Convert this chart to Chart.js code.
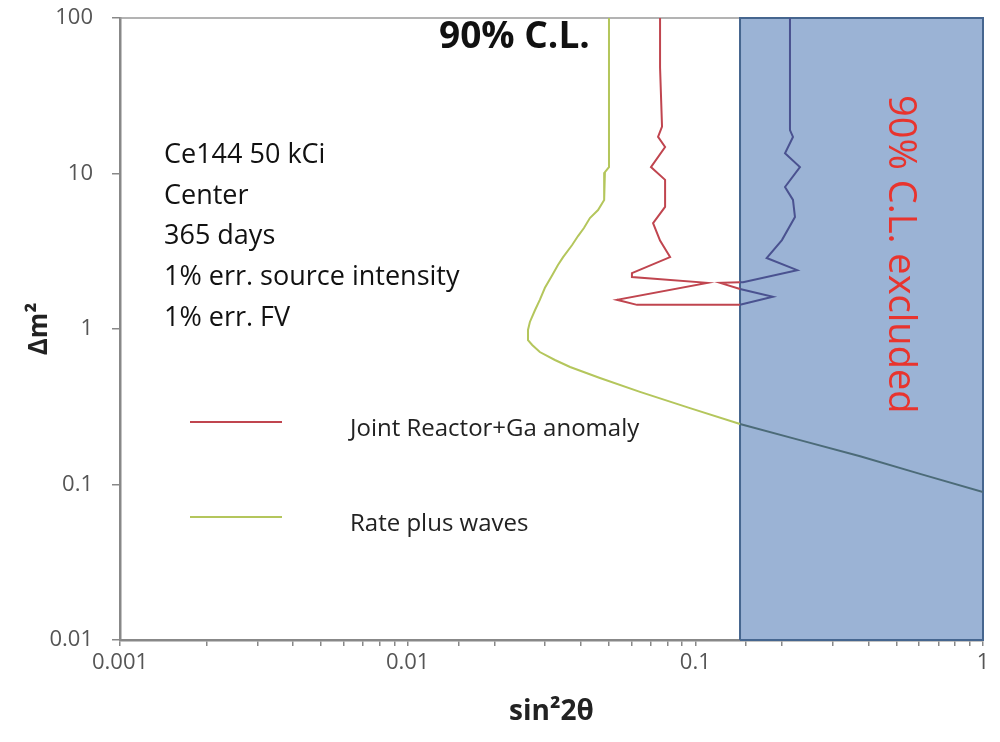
<!DOCTYPE html>
<html lang="en">
<head>
<meta charset="UTF-8" />
<title>Ce144 50 kCi – 90% C.L. sensitivity</title>
<script src="https://cdn.jsdelivr.net/npm/chart.js"></script>
<style>
  body{margin:0;background:#fff;}
  #c{display:block;}
</style>
</head>
<body>
<canvas id="c" width="1000" height="742"></canvas>
<script>
  // Rate plus waves contour (sin^2 2θ, Δm^2)
  const rateX=[0.0501,0.0501,0.0485,0.0482,0.0459,0.0430,0.0410,0.0391,0.0373,0.0347,0.0333,0.0318,0.0300,0.0288,0.0277,0.0266,0.0262,0.0262,0.0271,0.0288,0.0325,0.0367,0.0466,0.0642,0.0958,0.143,0.231,0.374,0.604,1.0];
  const rateY=[100,11.0,10.2,6.76,5.82,5.17,4.46,3.96,3.47,2.90,2.58,2.22,1.84,1.54,1.32,1.11,0.986,0.849,0.789,0.711,0.632,0.570,0.484,0.394,0.310,0.245,0.193,0.152,0.117,0.0895];

  // Joint Reactor+Ga anomaly contour (closed loop)
  const jointX=[0.0754,0.0754,0.0766,0.0742,0.0785,0.0701,0.0785,0.0785,0.0713,0.0754,0.0817,0.0602,0.0602,0.110,0.0534,0.0627,0.143,0.186,0.143,0.122,0.143,0.1465,0.226,0.177,0.200,0.222,0.2185,0.205,0.231,0.205,0.2185,0.2133,0.2133];
  const jointY=[100,48,20,17.2,14.8,11.0,9.1,6.1,4.8,3.7,2.9,2.29,2.16,1.98,1.54,1.43,1.43,1.61,1.81,1.98,2.0,2.0,2.39,2.86,3.73,5.25,6.76,8.19,11.0,13.5,17.2,19.0,100];

  // excluded band
  const boxX=[0.143,1];
  const boxY=[0.01,100];

  const xTickVals=[0.001,0.01,0.1,1], xTickLabels=['0.001','0.01','0.1','1'];
  const yTickVals=[0.01,0.1,1,10,100], yTickLabels=['0.01','0.1','1','10','100'];
  const seriesNames=['Joint Reactor+Ga anomaly','Rate plus waves'];
  const infoLines=['Ce144 50 kCi','Center','365 days','1% err. source intensity','1% err. FV'];

  const RED='#c0454f', GREEN='#b4c65c';
  const FONT='"Open Sans", sans-serif';

  const pts=(xs,ys)=>xs.map((x,i)=>({x,y:ys[i]}));
  const inBox=c=>c.p0.parsed.x>=boxX[0]-1e-9&&c.p1.parsed.x>=boxX[0]-1e-9;
  const decade=(v,vals,labels)=>{
    const i=vals.findIndex(t=>Math.abs(Math.log10(t)-Math.log10(v))<1e-6);
    return i<0?null:labels[i];
  };

  // plot frame top edge, legend and text notes
  const notes={
    id:'notes',
    beforeDatasetsDraw(chart){
      const {ctx,chartArea:a}=chart;
      ctx.save();
      ctx.strokeStyle='#9a9a9a';ctx.lineWidth=1.5;
      ctx.beginPath();ctx.moveTo(a.left,a.top);ctx.lineTo(a.right,a.top);ctx.stroke();
      ctx.restore();
    },
    afterDraw(chart){
      const {ctx}=chart;
      ctx.save();
      ctx.textBaseline='alphabetic';ctx.textAlign='left';
      ctx.fillStyle='#111';
      ctx.font='bold 37px '+FONT;
      ctx.fillText('90% C.L.',439,48);

      ctx.font='27px '+FONT;
      infoLines.forEach((t,i)=>ctx.fillText(t,164,163+i*40.7));

      // legend
      const legendRows=[{c:RED,y:422},{c:GREEN,y:517}];
      ctx.font='24px '+FONT;ctx.fillStyle='#222';
      legendRows.forEach((r,i)=>{
        ctx.strokeStyle=r.c;ctx.lineWidth=2;
        ctx.beginPath();ctx.moveTo(190,r.y);ctx.lineTo(282,r.y);ctx.stroke();
        ctx.fillText(seriesNames[i],350,r.y+14);
      });

      // rotated label inside excluded band
      ctx.translate(889,95);
      ctx.rotate(Math.PI/2);
      ctx.font='38px '+FONT;ctx.fillStyle='#e8342e';
      ctx.fillText('90% C.L. excluded',0,0);
      ctx.restore();
    }
  };

  new Chart(document.getElementById('c'),{
    type:'line',
    data:{datasets:[
      {label:seriesNames[0],data:pts(jointX,jointY),borderColor:RED,borderWidth:2,pointRadius:0,tension:0,order:1,
       segment:{borderColor:c=>inBox(c)?'#4a5290':undefined}},
      {label:seriesNames[1],data:pts(rateX,rateY),borderColor:GREEN,borderWidth:2,pointRadius:0,tension:0,order:2,
       segment:{borderColor:c=>inBox(c)?'#4c6b78':undefined}},
      {label:'excluded',data:pts([boxX[0],boxX[0],boxX[1],boxX[1],boxX[0]],[boxY[0],boxY[1],boxY[1],boxY[0],boxY[0]]),
       fill:'shape',backgroundColor:'#9bb3d5',borderColor:'#46668f',borderWidth:2,pointRadius:0,tension:0,order:3,clip:false}
    ]},
    options:{
      responsive:false,animation:false,
      layout:{padding:{top:18,right:17,left:0,bottom:0}},
      plugins:{legend:{display:false},tooltip:{enabled:false}},
      scales:{
        x:{type:'logarithmic',min:0.001,max:1,
          afterFit:s=>{s.height=102;},
          border:{color:'#888',width:2.5},
          grid:{drawOnChartArea:false,drawTicks:true,tickLength:6,color:'#888',lineWidth:1.5},
          ticks:{autoSkip:false,maxRotation:0,padding:4,color:'#555',font:{family:FONT,size:22},
            callback:v=>decade(v,xTickVals,xTickLabels)??''},
          title:{display:true,text:'sin²2θ',color:'#222',font:{family:FONT,size:28,weight:'bold'},padding:{top:0,bottom:13}}
        },
        y:{type:'logarithmic',min:0.01,max:100,
          afterFit:s=>{s.width=120;s.paddingTop=0;s.paddingBottom=0;},
          border:{color:'#888',width:2.5},
          grid:{drawOnChartArea:false,drawTicks:true,tickLength:8,color:'#888',lineWidth:1.5},
          ticks:{autoSkip:false,padding:19,color:'#555',font:{family:FONT,size:22},
            callback:v=>decade(v,yTickVals,yTickLabels)},
          title:{display:true,text:'Δm²',color:'#222',font:{family:FONT,size:26,weight:'bold'},padding:{top:24,bottom:0}}
        }
      }
    },
    plugins:[notes]
  });
</script>
</body>
</html>
